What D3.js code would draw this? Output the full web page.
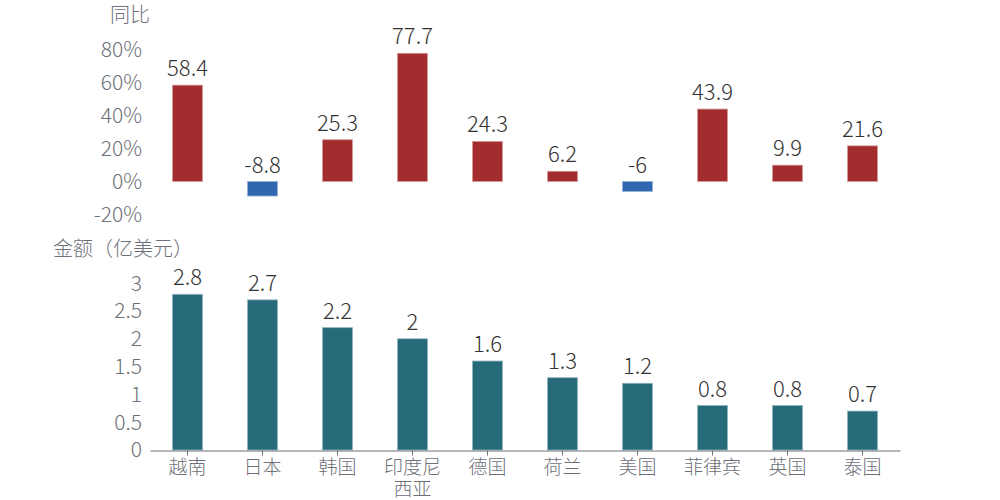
<!DOCTYPE html>
<html>
<head>
<meta charset="utf-8">
<script src="https://cdn.jsdelivr.net/npm/d3@7"></script>
<style>
  body { margin: 0; background: #fff; }
  text { font-family: "Microsoft YaHei", "Noto Sans CJK SC", sans-serif; font-weight: 300; }
</style>
</head>
<body>
<div id="chart"></div>
<script>
var categories = ["越南", "日本", "韩国", "印度尼西亚", "德国", "荷兰", "美国", "菲律宾", "英国", "泰国"];
var growth = [58.4, -8.8, 25.3, 77.7, 24.3, 6.2, -6, 43.9, 9.9, 21.6];
var amount = [2.8, 2.7, 2.2, 2, 1.6, 1.3, 1.2, 0.8, 0.8, 0.7];
var growthTicks = [-20, 0, 20, 40, 60, 80];
var amountTicks = [0, 0.5, 1, 1.5, 2, 2.5, 3];

var W = 1000, H = 500;
var svg = d3.select("#chart").append("svg")
    .attr("width", W)
    .attr("height", H);

var x = d3.scaleBand()
    .domain(categories)
    .range([150, 900])
    .paddingInner(0.6)
    .paddingOuter(0.3);

// top: growth rate
var yTop = d3.scaleLinear().domain([-20, 80]).range([214.5, 49.5]);

var topG = svg.append("g").attr("id", "growth");

topG.append("text")
    .attr("x", 150).attr("y", 22)
    .attr("text-anchor", "end")
    .attr("font-size", 20)
    .attr("fill", "#6e7079")
    .text("同比");

topG.selectAll("text.tick")
    .data(growthTicks)
    .enter().append("text")
    .attr("class", "tick")
    .attr("x", 142)
    .attr("y", function(d){ return yTop(d); })
    .attr("dy", "0.35em")
    .attr("text-anchor", "end")
    .attr("font-size", 21)
    .attr("fill", "#6e7079")
    .text(function(d){ return d + "%"; });

topG.selectAll("rect")
    .data(growth)
    .enter().append("rect")
    .attr("x", function(d, i){ return x(categories[i]); })
    .attr("width", x.bandwidth())
    .attr("y", function(d){ return yTop(Math.max(d, 0)); })
    .attr("height", function(d){ return Math.abs(yTop(d) - yTop(0)); })
    .attr("fill", function(d){ return d >= 0 ? "#a32d2e" : "#3068b0"; })
    .attr("stroke", function(d){ return d >= 0 ? "#d39a9a" : "#93b0d8"; })
    .attr("stroke-width", 0.8);

topG.selectAll("text.val")
    .data(growth)
    .enter().append("text")
    .attr("class", "val")
    .attr("x", function(d, i){ return x(categories[i]) + x.bandwidth() / 2; })
    .attr("y", function(d){ return d >= 0 ? yTop(d) - 9 : yTop(0) - 9; })
    .attr("text-anchor", "middle")
    .attr("font-size", 22)
    .attr("fill", "#333")
    .text(function(d){ return d; });

// bottom: amount
var yBot = d3.scaleLinear().domain([0, 3]).range([450, 283.2]);

var botG = svg.append("g").attr("id", "amount");

botG.append("text")
    .attr("x", 53).attr("y", 256)
    .attr("font-size", 20)
    .attr("fill", "#6e7079")
    .text("金额（亿美元）");

botG.selectAll("text.tick")
    .data(amountTicks)
    .enter().append("text")
    .attr("class", "tick")
    .attr("x", 142)
    .attr("y", function(d){ return yBot(d); })
    .attr("dy", "0.35em")
    .attr("text-anchor", "end")
    .attr("font-size", 21)
    .attr("fill", "#6e7079")
    .text(function(d){ return d; });

botG.selectAll("rect")
    .data(amount)
    .enter().append("rect")
    .attr("x", function(d, i){ return x(categories[i]); })
    .attr("width", x.bandwidth())
    .attr("y", function(d){ return yBot(d); })
    .attr("height", function(d){ return yBot(0) - yBot(d); })
    .attr("fill", "#276a7a")
    .attr("stroke", "#8fb3bc")
    .attr("stroke-width", 0.8);

botG.selectAll("text.val")
    .data(amount)
    .enter().append("text")
    .attr("class", "val")
    .attr("x", function(d, i){ return x(categories[i]) + x.bandwidth() / 2; })
    .attr("y", function(d){ return yBot(d) - 9; })
    .attr("text-anchor", "middle")
    .attr("font-size", 22)
    .attr("fill", "#333")
    .text(function(d){ return d; });

// category axis
var xAxis = botG.append("g")
    .attr("transform", "translate(0,450.5)")
    .call(d3.axisBottom(x).tickSize(5).tickSizeOuter(0).tickFormat(""));
xAxis.select(".domain").attr("stroke", "#6e7079");
xAxis.selectAll(".tick line").attr("stroke", "#6e7079");

xAxis.selectAll(".tick").each(function(d){
    var t = d3.select(this).append("text")
        .attr("y", 23)
        .attr("text-anchor", "middle")
        .attr("font-size", 19)
        .attr("fill", "#6e7079");
    if (d.length > 3) {
        t.append("tspan").attr("x", 0).text(d.slice(0, 3));
        t.append("tspan").attr("x", 0).attr("dy", 22).text(d.slice(3));
    } else {
        t.text(d);
    }
});
</script>
</body>
</html>
